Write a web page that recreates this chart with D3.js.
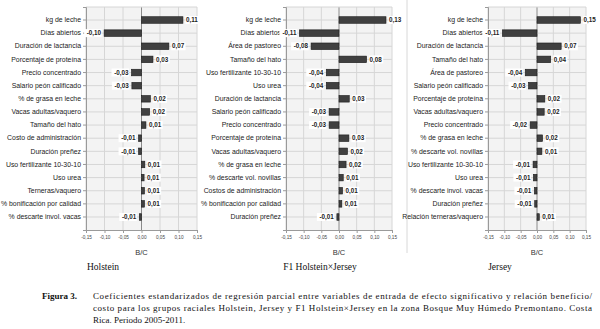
<!DOCTYPE html>
<html><head><meta charset="utf-8">
<script src="https://cdn.jsdelivr.net/npm/d3@7/dist/d3.min.js"></script>
<style>body{margin:0;background:#fff}svg{display:block}</style>
</head><body>
<svg id="c" width="600" height="329"></svg>
<script>
const xTicks = [-0.15, -0.10, -0.05, 0.00, 0.05, 0.10, 0.15];

const holsteinCats = ["kg de leche","Días abiertos","Duración de lactancia","Porcentaje de proteína","Precio concentrado","Salario peón calificado","% de grasa en leche","Vacas adultas/vaquero","Tamaño del hato","Costo de administración","Duración preñez","Uso fertilizante 10-30-10","Uso urea","Terneras/vaquero","% bonificación por calidad","% descarte invol. vacas"];
const holsteinVals = [0.112,-0.101,0.074,0.031,-0.027,-0.026,0.024,0.022,0.012,-0.008,-0.008,0.009,0.007,0.008,0.008,-0.006];
const holsteinLabels = ["0,11","-0,10","0,07","0,03","-0,03","-0,03","0,02","0,02","0,01","-0,01","-0,01","0,01","0,01","0,01","0,01","-0,01"];

const f1Cats = ["kg de leche","Días abiertos","Área de pastoreo","Tamaño del hato","Uso fertilizante 10-30-10","Uso urea","Duración de lactancia","Salario peón calificado","Precio concentrado","Porcentaje de proteína","Vacas adultas/vaquero","% de grasa en leche","% descarte vol. novillas","Costos de administración","% bonificación por calidad","Duración preñez"];
const f1Vals = [0.133,-0.112,-0.079,0.078,-0.036,-0.036,0.029,-0.028,-0.028,0.028,0.024,0.020,0.012,0.010,0.008,-0.006];
const f1Labels = ["0,13","-0,11","-0,08","0,08","-0,04","-0,04","0,03","-0,03","-0,03","0,03","0,02","0,02","0,01","0,01","0,01","-0,01"];

const jerseyCats = ["kg de leche","Días abiertos","Duración de lactancia","Tamaño del hato","Área de pastoreo","Salario peón calificado","Porcentaje de proteína","Vacas adultas/vaquero","Precio concentrado","% de grasa en leche","% descarte vol. novillas","Uso fertilizante 10-30-10","Uso urea","% descarte invol. vacas","Duración preñez","Relación terneras/vaquero"];
const jerseyVals = [0.133,-0.106,0.074,0.042,-0.036,-0.026,0.024,0.022,-0.021,0.017,0.015,-0.012,-0.011,-0.008,-0.007,0.007];
const jerseyLabels = ["0,15","-0,11","0,07","0,04","-0,04","-0,03","0,02","0,02","-0,02","0,02","0,01","-0,01","-0,01","-0,01","-0,01","0,01"];

const panelTitles = ["Holstein","F1 Holstein×Jersey","Jersey"];
const axisTitle = "B/C";
const captionLabel = "Figura 3.";
const captionLines = [
 "Coeficientes estandarizados de regresión parcial entre variables de entrada de efecto significativo y relación beneficio/",
 "costo para los grupos raciales Holstein, Jersey y F1 Holstein×Jersey en la zona Bosque Muy Húmedo Premontano. Costa",
 "Rica. Periodo 2005-2011."
];

const svg = d3.select("#c");
const fmt = v => d3.format(".2f")(v).replace(".", ",").replace("−","-");

const panels = [
 {cats: holsteinCats, vals: holsteinVals, labels: holsteinLabels, x0: 86, x1: 197, title: panelTitles[0], tx: 103},
 {cats: f1Cats, vals: f1Vals, labels: f1Labels, x0: 286, x1: 392, title: panelTitles[1], tx: 320},
 {cats: jerseyCats, vals: jerseyVals, labels: jerseyLabels, x0: 488, x1: 586, title: panelTitles[2], tx: 500}
];
const plotTop = 7, plotBottom = 230;
const sans = "Liberation Sans, Arial, sans-serif";

svg.append("line").attr("x1",407).attr("x2",407).attr("y1",0).attr("y2",253)
  .attr("stroke","#d8d8d8").attr("stroke-width",1);

panels.forEach(p => {
  const g = svg.append("g");
  const x = d3.scaleLinear().domain([-0.15,0.15]).range([p.x0,p.x1]);
  const y = d3.scaleBand().domain(p.cats).range([plotTop,plotBottom]).paddingInner(0.5).paddingOuter(0.74);
  g.append("rect").attr("x",p.x0).attr("y",plotTop).attr("width",p.x1-p.x0).attr("height",plotBottom-plotTop)
    .attr("fill","#f3f3f3");
  g.selectAll(".vg").data(xTicks).enter().append("line")
    .attr("x1",d=>x(d)).attr("x2",d=>x(d)).attr("y1",plotTop).attr("y2",plotBottom)
    .attr("stroke", d=> d===0 ? "#8a8a8a" : "#d6d6d6").attr("stroke-width",1);
  g.selectAll(".hg").data(p.cats).enter().append("line")
    .attr("x1",p.x0).attr("x2",p.x1)
    .attr("y1",d=>y(d)+y.bandwidth()/2).attr("y2",d=>y(d)+y.bandwidth()/2)
    .attr("stroke","#d6d6d6").attr("stroke-width",1);
  g.append("line").attr("x1",p.x0).attr("x2",p.x1).attr("y1",plotTop).attr("y2",plotTop).attr("stroke","#d6d6d6");
  const ya = d3.axisLeft(y).tickSize(3).tickPadding(2);
  const yg = g.append("g").attr("transform",`translate(${p.x0},0)`).call(ya);
  yg.select(".domain").attr("stroke","#9a9a9a");
  yg.selectAll(".tick line").attr("stroke","#9a9a9a");
  yg.selectAll("text").attr("font-family",sans).attr("font-size","6.9px").attr("fill","#222");
  const xa = d3.axisBottom(x).tickValues(xTicks).tickSize(3).tickPadding(3).tickFormat(fmt);
  const xg = g.append("g").attr("transform",`translate(0,${plotBottom})`).call(xa);
  xg.select(".domain").attr("stroke","#9a9a9a");
  xg.selectAll(".tick line").attr("stroke","#9a9a9a");
  xg.selectAll("text").attr("font-family",sans).attr("font-size","4.7px").attr("fill","#444");
  const data = p.cats.map((c,i)=>({c, v: p.vals[i], t: p.labels[i]}));
  g.selectAll(".bar").data(data).enter().append("rect")
    .attr("x", d=>x(Math.min(0,d.v))).attr("width", d=>Math.abs(x(d.v)-x(0)))
    .attr("y", d=>y(d.c)).attr("height", y.bandwidth())
    .attr("fill","#404040").attr("stroke","#1a1a1a").attr("stroke-width",0.6);
  data.forEach(d => {
    const t = d.t;
    const w = t.length*3.3;
    const cy = y(d.c)+y.bandwidth()/2;
    const lx = d.v >= 0 ? x(d.v)+3 : x(d.v)-3-w;
    g.append("rect").attr("x",lx-0.5).attr("y",cy-4).attr("width",w+1).attr("height",8).attr("fill","#fff");
    g.append("text").attr("x", d.v>=0 ? lx : lx+w).attr("y",cy).attr("dy","0.35em")
      .attr("text-anchor", d.v>=0 ? "start":"end")
      .attr("font-family",sans).attr("font-size","6.3px")
      .attr("font-weight","bold").attr("fill","#222").text(t);
  });
  g.append("text").attr("x",x(0)).attr("y",255).attr("text-anchor","middle")
    .attr("font-family",sans).attr("font-size","7.5px").attr("fill","#333").text(axisTitle);
  g.append("text").attr("x",p.tx).attr("y",270).attr("text-anchor","middle")
    .attr("font-family","Liberation Serif, Times New Roman, serif").attr("font-size","9.5px").attr("fill","#111").text(p.title);
});

const cf = "Liberation Serif, Times New Roman, serif";
svg.append("text").attr("x",42).attr("y",299).attr("font-family",cf).attr("font-size","9px")
  .attr("font-weight","bold").attr("fill","#111").text(captionLabel);
captionLines.forEach((l,i)=>{
  const t = svg.append("text").attr("x",93).attr("y",299+i*12).attr("font-family",cf).attr("font-size","9px")
    .attr("fill","#111").text(l);
  if (i<2) t.attr("textLength",499).attr("lengthAdjust","spacing");
});
</script>
</body></html>
